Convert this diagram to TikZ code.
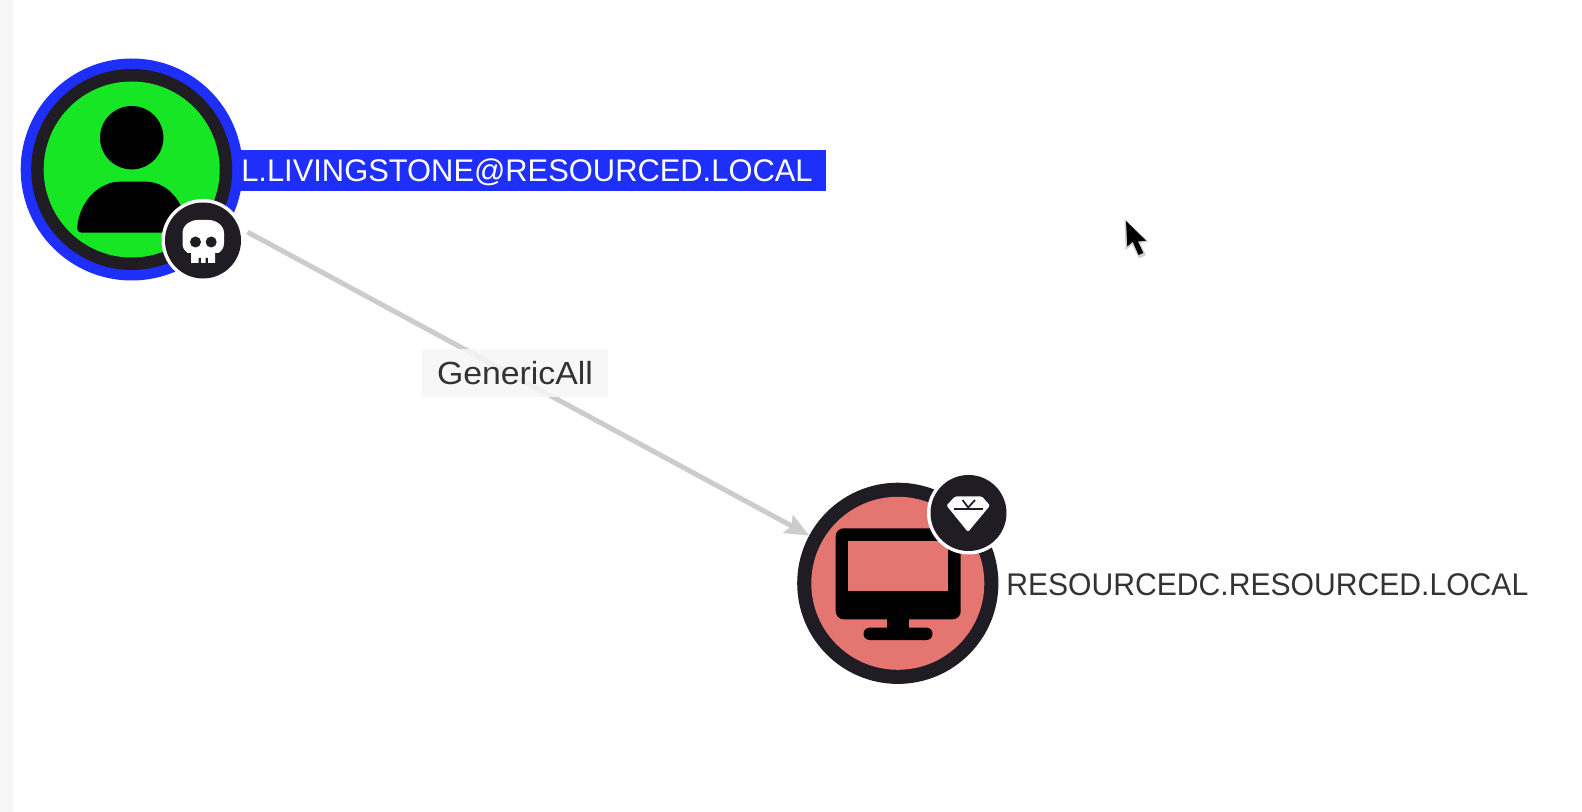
\documentclass[tikz,border=0pt]{standalone}
\usepackage{fontspec}
\usepackage{graphicx}
\usetikzlibrary{arrows.meta}
\setmainfont{Liberation Sans}
\definecolor{ringblue}{HTML}{1E2EFB}
\definecolor{usergreen}{HTML}{17E625}
\definecolor{ringdark}{HTML}{1F1D23}
\definecolor{comppink}{HTML}{E57570}
\definecolor{edgegrey}{HTML}{CCCCCC}
\definecolor{labeltext}{HTML}{333333}
\definecolor{stripgrey}{HTML}{F6F6F6}
\tikzset{
  disc/.style={circle,inner sep=0pt,outer sep=0pt,minimum size=#1*1.5pt},
  nametext/.style={inner sep=0pt,anchor=base west,text=labeltext},
  edgelabel/.style={fill=stripgrey,fill opacity=.88,text opacity=1,text=labeltext,inner sep=0pt,
    minimum width=139.5pt,minimum height=36pt},
}
\begin{document}
\begin{tikzpicture}[x=0.75pt,y=-0.75pt]
\useasboundingbox (0,0) rectangle (1582,812);
\fill[white] (0,0) rectangle (1582,812);
\fill[stripgrey] (0,0) rectangle (13,812);
% user label bar
\fill[ringblue] (200,150) rectangle (826,191);
% user node
\node[disc=111,fill=ringblue] (usr) at (131.7,169.5) {};
\node[disc=100.5,fill=ringdark] (usrring) at (usr.center) {};
\node[disc=88,fill=usergreen] (usrcore) at (usr.center) {};
\fill[black] (131.7,137.7) circle (31.7);
\fill[black] (82,232.7) .. controls (78,232.7) and (77,230) .. (77.3,226)
  .. controls (80,200) and (100,181.7) .. (120,181.7) -- (146,181.7)
  .. controls (166,181.7) and (184,200) .. (186.5,226)
  .. controls (186.5,230) and (185,232.7) .. (182,232.7) -- cycle;
\node[disc=41.5,fill=white] (usrbadgeo) at (203,240.5) {};
\node[disc=38,fill=ringdark] (usrbadge) at (203,240.5) {};
% skull
\fill[white] (191,263) -- (191,253) -- (187.5,253) .. controls (184.5,251) and (182.5,248) .. (182.5,243) -- (182.5,233)
  .. controls (182.5,225) and (190.5,220) .. (197.5,220) -- (208.5,220)
  .. controls (215.5,220) and (224,225) .. (224,233) -- (224,243)
  .. controls (224,248) and (221.5,251) .. (218.5,253) -- (215,253) -- (215,263) -- cycle;
\fill[ringdark] (195.5,242) circle (5.5) (211.2,242) circle (5.5);
\fill[ringdark] (198.5,258) rectangle (200.8,263) (205.5,258) rectangle (207.8,263);
% computer node
\node[disc=100.6,fill=ringdark] (comp) at (897.8,583.3) {};
\node[disc=86.5,fill=comppink] (compcore) at (comp.center) {};
\fill[black,rounded corners=6pt] (835.7,528.3) rectangle (960.7,619.3);
\fill[comppink] (848,541) rectangle (948,591);
\fill[black] (886.7,615) rectangle (909,632);
\fill[black,rounded corners=4.5pt] (863.5,627.7) rectangle (932.5,640);
\node[disc=41.5,fill=white] (compbadgeo) at (968.5,513) {};
\node[disc=38,fill=ringdark] (compbadge) at (968.5,513) {};
% diamond
\fill[white,rounded corners=1pt] (955,496.5) -- (982,496.5) -- (990,505.5) -- (968,532) -- (946.5,505.5) -- cycle;
\draw[ringdark,line width=1.6pt] (953.5,509) -- (983,509);
\draw[ringdark,line width=1.3pt] (962.5,500) -- (968.2,507.5) -- (975,500);
% edge
\draw[edgegrey,line width=3.75pt,shorten <=15.5pt,
  -{Stealth[length=18pt,width=15pt,inset=3pt]}] (usr) -- (comp);
% labels
\node[edgelabel] (edgelab) at (515,373) {\resizebox{117pt}{\height}{\fontsize{24}{28}\selectfont GenericAll}};
\node[nametext,text=white] (usrname) at (241,182) {\resizebox{428.5pt}{\height}{\fontsize{23.5}{28}\selectfont L.LIVINGSTONE@RESOURCED.LOCAL}};
\node[nametext] (compname) at (1006,596) {\resizebox{391.5pt}{\height}{\fontsize{23.5}{28}\selectfont RESOURCEDC.RESOURCED.LOCAL}};
% cursor
\fill[black!18] (1124.5,219) -- (1125.5,250) -- (1132,245) -- (1139,258.5) -- (1146,255) -- (1140,243) -- (1148.5,241.5) -- cycle;
\fill[black] (1126,221) -- (1127.3,246.5) -- (1132.7,241.7) -- (1138.5,255) -- (1143.3,253) -- (1138,241.5) -- (1146,240.7) -- cycle;
\end{tikzpicture}
\end{document}
